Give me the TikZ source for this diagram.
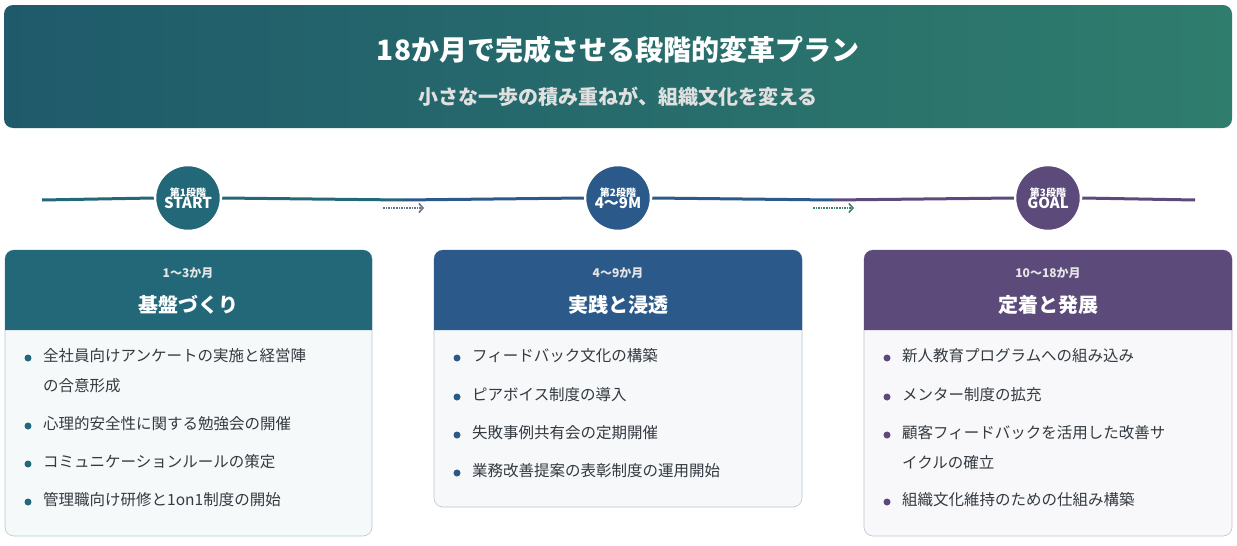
\documentclass[tikz,border=0pt]{standalone}
\usepackage{fontspec}
\setmainfont{Noto Sans CJK JP}
\usetikzlibrary{positioning,arrows.meta}
\definecolor{stageA}{HTML}{236878}
\definecolor{stageB}{HTML}{2B5A8A}
\definecolor{stageC}{HTML}{5B4A7A}
\definecolor{headL}{HTML}{1F5A6B}
\definecolor{headR}{HTML}{2F7D6D}
\definecolor{bodytxt}{HTML}{333A40}
\tikzset{
  stagedot/.style={circle, fill=#1, draw=white, line width=2.5pt, minimum size=66pt, inner sep=0pt, text=white, align=center, font=\bfseries},
  monthlbl/.style={text=white!90!black, font=\fontsize{12}{12}\selectfont\bfseries},
  cardtitle/.style={text=white, font=\fontsize{20}{20}\selectfont\bfseries},
  itemtxt/.style={anchor=north west, text=bodytxt, align=left, font=\fontsize{15.5}{30}\selectfont, inner sep=0pt},
  bulletdot/.style={circle, fill=#1, inner sep=0pt, minimum size=7pt},
  flowarrow/.style={densely dotted, line width=1.6pt, -{Straight Barb[length=4pt,width=9pt]}}
}
\newcommand{\stagecard}[6]{% x1, x2, y2, colour, fill, name
  \fill[#5, draw=#4!35, line width=0.6pt, rounded corners=9pt] (#1,250) rectangle (#2,#3);
  \fill[#4] (#1,330) {[rounded corners=9pt] -- (#1,250) -- (#2,250)} -- (#2,330) -- cycle;
  \coordinate (#6) at ({(#1+#2)/2},250);
}
\begin{document}
\begin{tikzpicture}[x=1pt,y=-1pt]
\useasboundingbox (0,0) rectangle (1237,546);
\fill[white] (0,0) rectangle (1237,546);
% header banner
\shade[left color=headL, right color=headR, rounded corners=9pt] (4,5) rectangle (1232,128);
\node[text=white, font=\fontsize{28}{28}\selectfont\bfseries] (title) at (618,50) {18か月で完成させる段階的変革プラン};
\node[text=white!88!black, font=\fontsize{20}{20}\selectfont\bfseries] (subtitle) at (618,97) {小さな一歩の積み重ねが、組織文化を変える};
% timeline
\coordinate (tl0) at (42,200);
\coordinate (tl3) at (1195,200);
\node[stagedot=stageA] (s1) at (188,198) {\fontsize{10}{10}\selectfont 第1段階\\[-1pt]\fontsize{15}{15}\selectfont START};
\node[stagedot=stageB] (s2) at (618,198) {\fontsize{10}{10}\selectfont 第2段階\\[-1pt]\fontsize{15}{15}\selectfont 4〜9M};
\node[stagedot=stageC] (s3) at (1048,198) {\fontsize{10}{10}\selectfont 第3段階\\[-1pt]\fontsize{15}{15}\selectfont GOAL};
\draw[stageA, line width=3pt] (tl0) -- (s1.west);
\draw[stageA, line width=3pt] (s1.east) -- (403,200);
\draw[stageB, line width=3pt] (403,200) -- (s2.west);
\draw[stageB, line width=3pt] (s2.east) -- (833,200);
\draw[stageC, line width=3pt] (833,200) -- (s3.west);
\draw[stageC, line width=3pt] (s3.east) -- (tl3);
\coordinate (a1s) at (383,208); \coordinate (a1e) at (424,208);
\coordinate (a2s) at (813,208); \coordinate (a2e) at (854,208);
\draw[flowarrow, color=gray!70!stageB] (a1s) -- (a1e);
\draw[flowarrow, color=headR!80!gray] (a2s) -- (a2e);
% stage cards
\stagecard{5}{372}{536}{stageA}{stageA!4}{c1}
\stagecard{434}{802}{507}{stageB}{stageB!4}{c2}
\stagecard{864}{1232}{536}{stageC}{stageC!4}{c3}
\node[monthlbl] (m1) at (188,273) {1〜3か月};
\node[cardtitle] (t1) at (188,305) {基盤づくり};
\node[monthlbl] (m2) at (618,273) {4〜9か月};
\node[cardtitle] (t2) at (618,305) {実践と浸透};
\node[monthlbl] (m3) at (1048,273) {10〜18か月};
\node[cardtitle] (t3) at (1048,305) {定着と発展};
% card items
\foreach \y/\txt [count=\i] in {352/{全社員向けアンケートの実施と経営陣\\の合意形成}, 420/心理的安全性に関する勉強会の開催, 458/コミュニケーションルールの策定, 496/管理職向け研修と1on1制度の開始}{
  \node[bulletdot=stageA] (b1\i) at (28,\y+6) {};
  \node[itemtxt] (i1\i) at (43,\y-4) {\txt};
}
\foreach \y/\txt [count=\i] in {352/フィードバック文化の構築, 391/ピアボイス制度の導入, 429/失敗事例共有会の定期開催, 467/業務改善提案の表彰制度の運用開始}{
  \node[bulletdot=stageB] (b2\i) at (457,\y+6) {};
  \node[itemtxt] (i2\i) at (472,\y-4) {\txt};
}
\foreach \y/\txt [count=\i] in {352/新人教育プログラムへの組み込み, 391/メンター制度の拡充, 429/{顧客フィードバックを活用した改善サ\\イクルの確立}, 496/組織文化維持のための仕組み構築}{
  \node[bulletdot=stageC] (b3\i) at (887,\y+6) {};
  \node[itemtxt] (i3\i) at (902,\y-4) {\txt};
}
\end{tikzpicture}
\end{document}
